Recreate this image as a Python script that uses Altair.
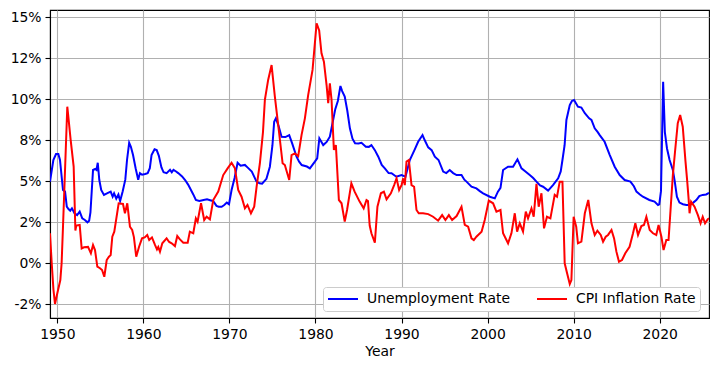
import altair as alt
import pandas as pd

# (year, unemployment rate %)
unemployment_points = [
    (1949.15, 4.98), (1949.54, 6.3), (1949.85, 6.66), (1950.12, 6.66), (1950.31, 6.3),
    (1950.66, 4.47), (1950.9, 4.37), (1951.1, 3.45), (1951.3, 3.31), (1951.5, 3.21),
    (1951.7, 3.35), (1952.0, 3.05), (1952.3, 2.94), (1952.6, 3.15), (1952.9, 2.74),
    (1953.2, 2.64), (1953.5, 2.5), (1953.7, 2.6), (1953.85, 3.1), (1954.15, 5.69),
    (1954.4, 5.75), (1954.55, 5.69), (1954.7, 6.13), (1954.88, 5.08), (1955.1, 4.47),
    (1955.42, 4.17), (1955.77, 4.27), (1956.2, 4.37), (1956.43, 4.06), (1956.6, 4.27),
    (1956.85, 3.95), (1957.1, 4.2), (1957.3, 3.8), (1957.6, 4.4), (1957.9, 5.1),
    (1958.1, 6.3), (1958.35, 7.35), (1958.55, 7.1), (1958.8, 6.6), (1959.1, 5.8),
    (1959.4, 5.1), (1959.6, 5.5), (1959.85, 5.4), (1960.2, 5.45), (1960.5, 5.5),
    (1960.75, 5.8), (1960.95, 6.6), (1961.3, 6.95), (1961.55, 6.9), (1961.8, 6.55),
    (1962.1, 5.85), (1962.35, 5.55), (1962.7, 5.5), (1963.1, 5.7), (1963.3, 5.55),
    (1963.5, 5.7), (1963.8, 5.6), (1964.05, 5.5), (1964.5, 5.3), (1964.85, 5.08),
    (1965.2, 4.8), (1965.5, 4.5), (1965.8, 4.2), (1966.1, 3.86), (1966.5, 3.8),
    (1967.0, 3.86), (1967.4, 3.9), (1967.75, 3.85), (1968.1, 3.8), (1968.5, 3.5),
    (1968.75, 3.45), (1969.1, 3.45), (1969.4, 3.55), (1969.7, 3.7), (1969.95, 3.6),
    (1970.25, 4.47), (1970.6, 5.2), (1970.95, 6.13), (1971.3, 5.95), (1971.8, 6.0),
    (1972.1, 5.85), (1972.6, 5.59), (1973.15, 4.98), (1973.5, 4.88), (1973.8, 4.85),
    (1974.3, 5.15), (1974.7, 5.89), (1975.0, 7.2), (1975.2, 8.63), (1975.4, 8.84),
    (1975.7, 8.4), (1976.06, 7.72), (1976.5, 7.7), (1976.95, 7.82), (1977.3, 7.3),
    (1977.8, 6.5), (1978.1, 6.2), (1978.4, 5.99), (1979.0, 5.9), (1979.35, 5.79),
    (1979.93, 6.2), (1980.2, 6.4), (1980.45, 7.62), (1980.9, 7.21), (1981.3, 7.4),
    (1981.67, 7.72), (1982.0, 8.6), (1982.3, 9.4), (1982.6, 9.9), (1982.9, 10.81),
    (1983.1, 10.5), (1983.4, 10.16), (1983.7, 9.3), (1984.0, 8.23), (1984.3, 7.6),
    (1984.6, 7.32), (1985.0, 7.3), (1985.35, 7.35), (1985.85, 7.11), (1986.2, 7.1),
    (1986.5, 7.21), (1986.9, 6.9), (1987.3, 6.5), (1987.7, 6.0), (1988.06, 5.79),
    (1988.5, 5.5), (1988.84, 5.49), (1989.4, 5.28), (1990.0, 5.38), (1990.46, 5.28),
    (1990.96, 6.3), (1991.54, 6.95), (1991.93, 7.41), (1992.44, 7.82), (1992.7, 7.5),
    (1993.1, 7.07), (1993.5, 6.9), (1993.87, 6.5), (1994.3, 6.3), (1994.84, 5.59),
    (1995.2, 5.5), (1995.6, 5.69), (1996.0, 5.5), (1996.4, 5.38), (1996.97, 5.38),
    (1997.3, 5.1), (1997.55, 4.98), (1998.13, 4.67), (1998.7, 4.57), (1999.1, 4.4),
    (1999.48, 4.27), (2000.26, 4.06), (2000.84, 3.96), (2001.2, 4.37), (2001.5, 4.6),
    (2001.8, 5.69), (2002.38, 5.89), (2002.96, 5.89), (2003.47, 6.34), (2003.94, 5.79),
    (2004.4, 5.6), (2004.9, 5.38), (2005.3, 5.2), (2005.68, 4.98), (2006.1, 4.75),
    (2006.45, 4.67), (2007.03, 4.43), (2007.6, 4.77), (2008.2, 5.18), (2008.5, 5.6),
    (2008.7, 6.3), (2008.95, 7.2), (2009.16, 8.74), (2009.55, 9.65), (2009.8, 9.9),
    (2010.05, 9.96), (2010.5, 9.55), (2010.9, 9.5), (2011.3, 9.15), (2011.8, 8.84),
    (2012.07, 8.74), (2012.45, 8.23), (2012.8, 8.0), (2013.03, 7.82), (2013.6, 7.41),
    (2014.2, 6.6), (2014.77, 5.89), (2015.35, 5.38), (2015.93, 5.08), (2016.6, 4.98),
    (2017.0, 4.7), (2017.3, 4.37), (2017.7, 4.2), (2018.05, 4.06), (2018.8, 3.86),
    (2019.4, 3.76), (2019.8, 3.56), (2019.95, 3.6), (2020.15, 4.4), (2020.4, 11.07),
    (2020.6, 8.0), (2020.85, 7.0), (2021.15, 6.3), (2021.53, 5.69), (2021.75, 5.0),
    (2022.0, 4.06), (2022.3, 3.7), (2022.7, 3.6), (2023.1, 3.55), (2023.5, 3.56),
    (2023.9, 3.7), (2024.26, 3.86), (2024.6, 4.1), (2025.0, 4.17), (2025.4, 4.2),
    (2025.73, 4.3),
]

# (year, CPI inflation rate %)
cpi_points = [
    (1949.15, 1.83), (1949.35, 0.0), (1949.55, -1.6), (1949.73, -2.48), (1950.0, -1.83),
    (1950.35, -1.02), (1950.5, 0.0), (1950.66, 2.23), (1950.85, 5.0), (1951.16, 9.55),
    (1951.28, 8.94), (1951.55, 7.52), (1951.9, 5.9), (1952.1, 2.0), (1952.2, 2.3),
    (1952.6, 2.34), (1952.83, 0.91), (1953.1, 0.98), (1953.57, 1.0), (1953.9, 0.61),
    (1954.15, 1.12), (1954.38, 0.81), (1954.65, -0.2), (1954.96, -0.3), (1955.2, -0.41),
    (1955.46, -0.82), (1955.74, 0.2), (1956.0, 0.4), (1956.2, 0.5), (1956.39, 1.62),
    (1956.62, 1.93), (1957.13, 3.66), (1957.63, 3.62), (1957.86, 3.05), (1958.13, 3.66),
    (1958.44, 2.23), (1958.7, 2.03), (1958.9, 1.6), (1959.17, 0.4), (1959.5, 1.01),
    (1959.84, 1.52), (1960.15, 1.58), (1960.45, 1.73), (1960.68, 1.42), (1961.0, 1.58),
    (1961.35, 1.12), (1961.58, 0.85), (1961.73, 1.0), (1961.93, 0.71), (1962.2, 1.22),
    (1962.7, 1.52), (1963.0, 1.3), (1963.29, 1.22), (1963.67, 1.05), (1963.94, 1.66),
    (1964.25, 1.46), (1964.64, 1.26), (1965.15, 1.26), (1965.4, 1.93), (1965.8, 1.83),
    (1966.1, 2.74), (1966.3, 2.54), (1966.7, 3.66), (1967.07, 2.64), (1967.35, 2.84),
    (1967.73, 2.68), (1968.12, 3.86), (1968.7, 4.37), (1969.28, 5.38), (1969.79, 5.79),
    (1970.25, 6.13), (1970.64, 5.79), (1971.02, 4.47), (1971.41, 4.06), (1971.8, 3.35),
    (1972.1, 3.56), (1972.5, 3.05), (1972.88, 3.45), (1973.16, 4.67), (1973.54, 6.1),
    (1973.9, 8.0), (1974.12, 9.96), (1974.5, 11.18), (1974.9, 12.09), (1975.28, 10.16),
    (1975.78, 7.93), (1976.18, 6.1), (1976.44, 5.99), (1976.95, 5.08), (1977.22, 6.6),
    (1977.6, 6.7), (1977.99, 6.54), (1978.38, 7.82), (1978.77, 8.84), (1979.15, 10.26),
    (1979.66, 11.79), (1980.13, 14.63), (1980.43, 14.2), (1980.7, 12.8), (1980.98, 12.29),
    (1981.29, 10.87), (1981.48, 9.76), (1981.67, 10.97), (1981.87, 9.96), (1982.14, 6.91),
    (1982.37, 7.21), (1982.72, 3.86), (1983.03, 3.66), (1983.4, 2.54), (1983.67, 3.25),
    (1984.17, 4.88), (1984.55, 4.37), (1985.13, 3.76), (1985.6, 3.35), (1985.93, 3.86),
    (1986.1, 3.8), (1986.3, 2.3), (1986.5, 1.83), (1986.9, 1.26), (1987.2, 3.45),
    (1987.6, 4.27), (1987.95, 4.37), (1988.26, 3.9), (1988.76, 4.27), (1989.14, 4.77),
    (1989.42, 5.18), (1989.72, 4.47), (1990.0, 4.77), (1990.2, 5.18), (1990.38, 4.77),
    (1990.58, 6.2), (1990.85, 6.3), (1991.16, 4.77), (1991.46, 4.67), (1991.74, 3.25),
    (1992.0, 3.05), (1992.5, 3.05), (1993.1, 3.0), (1993.67, 2.84), (1994.25, 2.6),
    (1994.72, 2.94), (1995.1, 2.64), (1995.5, 2.94), (1995.88, 2.64), (1996.4, 2.88),
    (1996.97, 3.45), (1997.35, 2.34), (1997.74, 2.23), (1998.13, 1.52), (1998.4, 1.42),
    (1998.7, 1.62), (1999.3, 1.93), (1999.67, 2.64), (2000.14, 3.82), (2000.64, 3.66),
    (2001.03, 3.15), (2001.5, 3.25), (2001.8, 1.83), (2002.38, 1.22), (2002.77, 1.83),
    (2003.16, 3.05), (2003.43, 1.93), (2003.74, 2.44), (2004.12, 1.93), (2004.44, 3.15),
    (2004.7, 2.74), (2005.1, 3.35), (2005.36, 2.84), (2005.68, 4.84), (2005.94, 3.45),
    (2006.26, 4.27), (2006.56, 2.13), (2006.9, 2.84), (2007.3, 2.74), (2007.8, 4.17),
    (2008.07, 4.06), (2008.38, 4.98), (2008.7, 4.98), (2008.96, 0.0), (2009.24, -0.61),
    (2009.55, -1.26), (2009.74, -1.02), (2010.0, 2.84), (2010.3, 2.23), (2010.5, 1.22),
    (2010.9, 1.32), (2011.3, 3.05), (2011.7, 3.86), (2012.07, 2.44), (2012.45, 1.73),
    (2012.76, 1.99), (2013.15, 1.73), (2013.42, 1.32), (2013.73, 1.62), (2014.0, 1.73),
    (2014.4, 2.03), (2014.7, 1.52), (2014.97, 0.71), (2015.27, 0.1), (2015.62, 0.2),
    (2016.0, 0.61), (2016.5, 1.01), (2016.9, 1.83), (2017.17, 2.44), (2017.48, 1.73),
    (2017.87, 2.27), (2018.17, 2.34), (2018.45, 2.84), (2018.84, 2.03), (2019.22, 1.83),
    (2019.6, 1.73), (2019.87, 2.34), (2020.2, 1.62), (2020.45, 0.81), (2020.77, 1.42),
    (2021.03, 1.42), (2021.26, 3.25), (2021.53, 5.38), (2021.8, 6.91), (2022.1, 8.54),
    (2022.38, 9.04), (2022.68, 8.33), (2023.0, 6.2), (2023.2, 5.0), (2023.35, 4.0),
    (2023.47, 3.05), (2023.65, 3.76), (2024.05, 3.45), (2024.44, 2.94), (2024.75, 2.44),
    (2025.0, 2.84), (2025.27, 2.44), (2025.57, 2.68), (2025.73, 2.75),
]

series_names = ["Unemployment Rate", "CPI Inflation Rate"]
series_colors = ["#0000ff", "#ff0000"]

x_ticks = [1950, 1960, 1970, 1980, 1990, 2000, 2010, 2020]
y_ticks = [-2.5, 0, 2.5, 5, 7.5, 10, 12.5, 15]
y_labels = ["-2%", "0%", "2%", "5%", "8%", "10%", "12%", "15%"]

x_domain = [1949.15, 2025.73]
y_domain = [-3.335, 15.445]

rows = []
for name, pts in zip(series_names, [unemployment_points, cpi_points]):
    for yr, v in pts:
        rows.append({"Year": yr, "Rate": v, "Series": name})
df = pd.DataFrame(rows)

label_expr = " : ".join(f"datum.value == {v} ? '{l}'" for v, l in zip(y_ticks, y_labels)) + " : ''"

FONT = "DejaVu Sans"

chart = (
    alt.Chart(df)
    .mark_line(strokeWidth=2, clip=True)
    .encode(
        x=alt.X(
            "Year:Q",
            scale=alt.Scale(domain=x_domain, nice=False, zero=False),
            axis=alt.Axis(values=x_ticks, format="d", title="Year"),
        ),
        y=alt.Y(
            "Rate:Q",
            scale=alt.Scale(domain=y_domain, nice=False, zero=False),
            axis=alt.Axis(values=y_ticks, labelExpr=label_expr, title=None),
        ),
        color=alt.Color(
            "Series:N",
            sort=series_names,
            scale=alt.Scale(domain=series_names, range=series_colors),
            legend=alt.Legend(
                title=None,
                orient="none",
                legendX=273,
                legendY=277,
                direction="horizontal",
                symbolType="stroke",
                symbolSize=900,
                symbolStrokeWidth=2,
                clipHeight=16,
                labelOffset=8,
                columnPadding=25,
                padding=4,
                fillColor="white",
                strokeColor="#cccccc",
                cornerRadius=3,
                labelFont=FONT,
                labelFontSize=13.9,
                labelColor="black",
            ),
        ),
    )
    .properties(
        width=659,
        height=308,
        autosize=alt.AutoSizeParams(type="none"),
        padding={"left": 42, "top": 2, "right": 2, "bottom": 45},
        background="white",
    )
    .configure_view(stroke="black", strokeWidth=1.1)
    .configure_axis(
        grid=True,
        gridColor="#b0b0b0",
        gridWidth=1.1,
        domainColor="black",
        domainWidth=1.1,
        tickColor="black",
        tickSize=5,
        tickWidth=1.1,
        labelFont=FONT,
        labelFontSize=13.9,
        labelColor="black",
        labelPadding=4,
        titleFont=FONT,
        titleFontSize=13.9,
        titleFontWeight="normal",
        titleColor="black",
        titlePadding=4,
        labelFlush=False,
        labelOverlap=False,
    )
)

chart.save("out.html", embed_options={"renderer": "svg", "actions": False})
